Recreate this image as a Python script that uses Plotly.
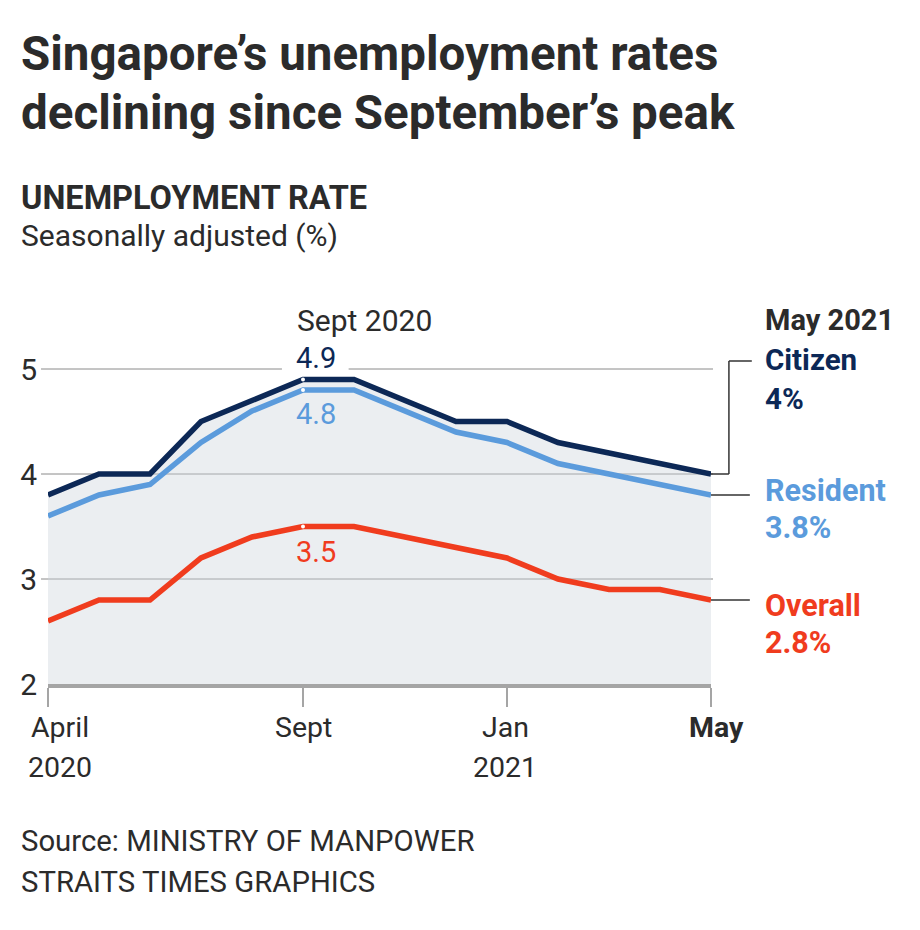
import plotly.graph_objects as go

# ---- data ----
months = ["Apr 2020", "May 2020", "Jun 2020", "Jul 2020", "Aug 2020", "Sep 2020", "Oct 2020",
          "Nov 2020", "Dec 2020", "Jan 2021", "Feb 2021", "Mar 2021", "Apr 2021", "May 2021"]
citizen = [3.8, 4.0, 4.0, 4.5, 4.7, 4.9, 4.9, 4.7, 4.5, 4.5, 4.3, 4.2, 4.1, 4.0]
resident = [3.6, 3.8, 3.9, 4.3, 4.6, 4.8, 4.8, 4.6, 4.4, 4.3, 4.1, 4.0, 3.9, 3.8]
overall = [2.6, 2.8, 2.8, 3.2, 3.4, 3.5, 3.5, 3.4, 3.3, 3.2, 3.0, 2.9, 2.9, 2.8]
y_ticks = [2, 3, 4, 5]
x_tick_months = ["Apr 2020", "Sep 2020", "Jan 2021", "May 2021"]
x_tick_labels = [("April", "2020"), ("Sept", ""), ("Jan", "2021"), ("<b>May</b>", "")]
peak_month = "Sep 2020"

# ---- styling ----
FONT = "Roboto"
TXT = "#2b2b2b"
C_CIT = "#0c2856"
C_RES = "#5b9bdc"
C_OVR = "#f03c1e"
OFF = 8                      # page body margin
W, H = 920 - OFF, 930 - OFF
L, R, T, B = 45, 711, 327, 684   # plot area in page pixels
YMIN, YMAX = 2, 5.4


def px(p):
    return (p - L) / (R - L)


def py(p):
    return (B - p) / (B - T)


def vy(v):
    return (v - YMIN) / (YMAX - YMIN)


fig = go.Figure()
fig.add_trace(go.Scatter(x=months, y=citizen, mode="lines", fill="tozeroy",
                         fillcolor="rgba(205,213,219,0.4)",
                         line=dict(color=C_CIT, width=5.5), hoverinfo="skip", name="Citizen"))
fig.add_trace(go.Scatter(x=months, y=resident, mode="lines",
                         line=dict(color=C_RES, width=5.5), hoverinfo="skip", name="Resident"))
fig.add_trace(go.Scatter(x=months, y=overall, mode="lines",
                         line=dict(color=C_OVR, width=5.5), hoverinfo="skip", name="Overall"))
pi = months.index(peak_month)
fig.add_trace(go.Scatter(x=[peak_month] * 3, y=[citizen[pi], resident[pi], overall[pi]],
                         mode="markers", marker=dict(color="white", size=4),
                         hoverinfo="skip", showlegend=False))

shapes = []
# gridlines
for v in y_ticks[1:]:
    if v == 5:
        segs = [(38, 280), (347, 713)]
    else:
        segs = [(38, 713)]
    for a, b in segs:
        shapes.append(dict(type="line", xref="paper", yref="paper", x0=px(a), x1=px(b),
                           y0=vy(v), y1=vy(v), line=dict(color="#8a8a8a", width=1), layer="below"))
# leader lines
lc = dict(color="#333333", width=1.5)
shapes.append(dict(type="line", xref="paper", yref="paper", x0=1, x1=px(729),
                   y0=vy(citizen[-1]), y1=vy(citizen[-1]), line=lc))
shapes.append(dict(type="line", xref="paper", yref="paper", x0=px(729), x1=px(729),
                   y0=vy(citizen[-1]), y1=py(361), line=lc))
shapes.append(dict(type="line", xref="paper", yref="paper", x0=px(729), x1=px(752),
                   y0=py(361), y1=py(361), line=lc))
shapes.append(dict(type="line", xref="paper", yref="paper", x0=1, x1=px(750),
                   y0=vy(resident[-1]), y1=vy(resident[-1]), line=lc))
shapes.append(dict(type="line", xref="paper", yref="paper", x0=1, x1=px(750),
                   y0=vy(overall[-1]), y1=vy(overall[-1]), line=lc))

ann = []


def txt(text, x, y, size, color=TXT, bold=False, anchor="left", xref="paper", xshift=0):
    t = f"<b>{text}</b>" if bold else text
    ann.append(dict(text=t, x=x, y=y, xref=xref, yref="paper", xanchor=anchor, yanchor="middle",
                    showarrow=False, xshift=xshift,
                    font=dict(family=FONT, size=size, color=color)))


# titles
txt("Singapore’s unemployment rates", px(16), py(53.5), 47.5, bold=True)
txt("declining since September’s peak", px(16), py(113.5), 47.5, bold=True)
txt("UNEMPLOYMENT RATE", px(16), py(198.5), 32.5, bold=True)
txt("Seasonally adjusted (%)", px(16), py(235), 30)
# peak labels
txt("Sept 2020", peak_month, py(320), 30, xref="x", xshift=-8)
txt(f"{citizen[pi]:.1f}", peak_month, py(357.5), 29, color=C_CIT, xref="x", xshift=-9)
txt(f"{resident[pi]:.1f}", peak_month, py(413.5), 29, color=C_RES, xref="x", xshift=-9)
txt(f"{overall[pi]:.1f}", peak_month, py(551.5), 29, color=C_OVR, xref="x", xshift=-9)
# end labels
txt("May 2021", px(763), py(320), 29, bold=True)
txt("Citizen", px(763), py(360), 29.5, color=C_CIT, bold=True)
txt(f"{citizen[-1]:g}%", px(763), py(399), 29.5, color=C_CIT, bold=True)
txt("Resident", px(763), py(490), 30.5, color=C_RES, bold=True)
txt(f"{resident[-1]:g}%", px(763), py(527.5), 30.5, color=C_RES, bold=True)
txt("Overall", px(763), py(605), 30.5, color=C_OVR, bold=True)
txt(f"{overall[-1]:g}%", px(763), py(642.5), 30.5, color=C_OVR, bold=True)
# x labels
shifts = [12, 0, -2, 5]
for m, (l1, l2), s in zip(x_tick_months, x_tick_labels, shifts):
    txt(l1, m, py(727.5), 28.5, xref="x", anchor="center", xshift=s)
    if l2:
        txt(l2, m, py(767), 28.5, xref="x", anchor="center", xshift=s)
# source
txt("Source: MINISTRY OF MANPOWER", px(16), py(841), 29.3)
txt("STRAITS TIMES GRAPHICS", px(16), py(882), 29.3)

fig.update_layout(
    width=W, height=H,
    margin=dict(l=L - OFF, r=920 - R, t=T - OFF, b=930 - B, pad=0),
    paper_bgcolor="white", plot_bgcolor="white",
    showlegend=False,
    shapes=shapes, annotations=ann,
    xaxis=dict(type="category", categoryorder="array", categoryarray=months,
               range=[0, len(months) - 1], showgrid=False, zeroline=False,
               showline=True, linecolor="#a5a5a5", linewidth=4,
               ticks="outside", ticklen=19, tickwidth=1.5, tickcolor="#a5a5a5",
               tickvals=x_tick_months, ticktext=[""] * len(x_tick_months),
               fixedrange=True),
    yaxis=dict(range=[YMIN, YMAX], tickvals=y_ticks, ticktext=[str(v) for v in y_ticks],
               showgrid=False, zeroline=False, showline=False, ticks="",
               ticklabelstandoff=10,
               tickfont=dict(family=FONT, size=30, color=TXT), fixedrange=True),
    font=dict(family=FONT, color=TXT),
)

fig.write_html("out.html", config={"displayModeBar": False})
